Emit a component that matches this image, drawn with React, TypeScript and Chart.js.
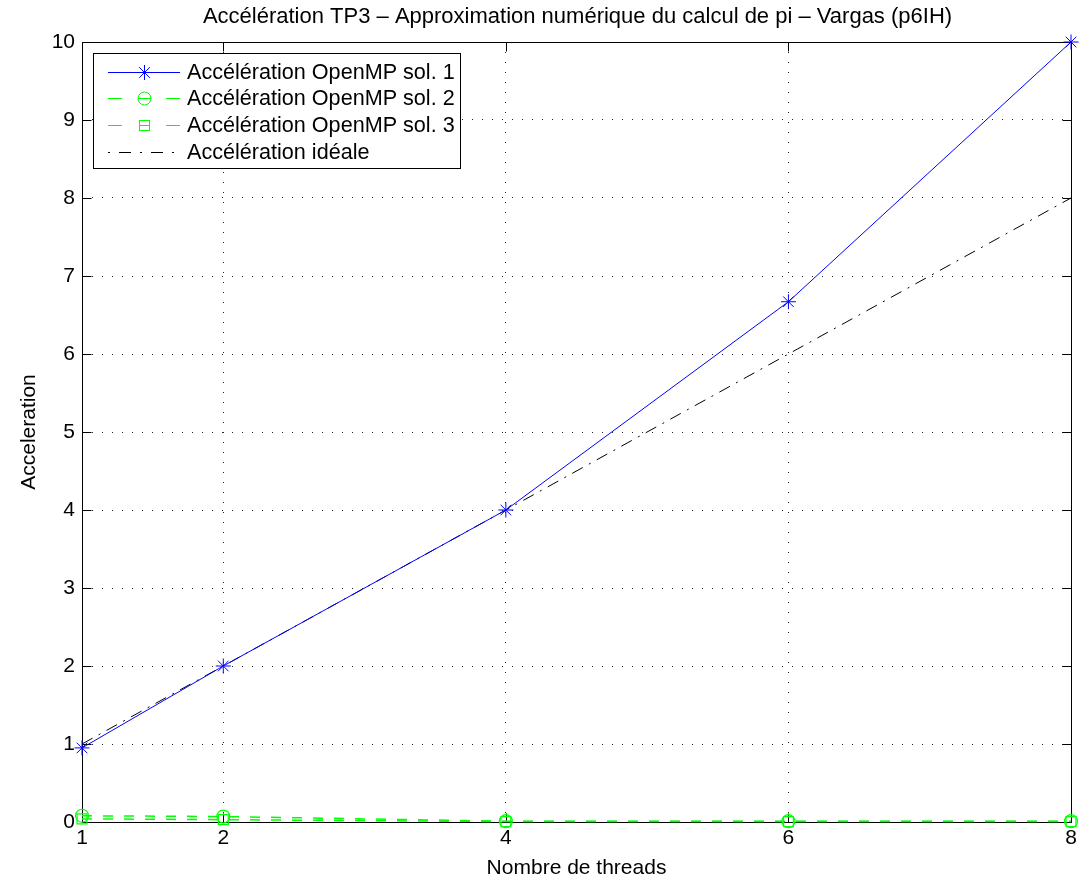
import React, { useEffect, useRef } from "react";
import { Chart, registerables } from "chart.js";

Chart.register(...registerables);

const threads = [1, 2, 4, 6, 8];
const accelSol1 = [0.95, 2.0, 4.0, 6.67, 10.0];
const accelSol2 = [0.08, 0.07, 0.01, 0.01, 0.01];
const accelSol3 = [0.04, 0.03, 0.005, 0.005, 0.005];
const accelIdeal = [1, 2, 4, 6, 8];
const xTickValues = [1, 2, 4, 6, 8];
const yTickValues = [0, 1, 2, 3, 4, 5, 6, 7, 8, 9, 10];
const seriesLabels = [
  "Accélération OpenMP sol. 1",
  "Accélération OpenMP sol. 2",
  "Accélération OpenMP sol. 3",
  "Accélération idéale",
];
const chartTitle = "Accélération TP3 – Approximation numérique du calcul de pi – Vargas (p6IH)";
const xTitle = "Nombre de threads";
const yTitle = "Acceleration";

const FONT = "'Liberation Sans', Arial, Helvetica, sans-serif";
const FS = 21;

const toPts = (ys: number[]) => threads.map((x, i) => ({ x, y: ys[i] }));

const framePlugin = {
  id: "matlabFrame",
  beforeDatasetsDraw(chart: any) {
    const { ctx, chartArea } = chart;
    const { left, right, top, bottom } = chartArea;
    const xs = chart.scales.x;
    const ys = chart.scales.y;
    ctx.save();
    ctx.strokeStyle = "#000";
    ctx.lineWidth = 1;
    ctx.setLineDash([]);
    const L = Math.round(left) + 0.5;
    const R = Math.round(right) + 0.5;
    const T = Math.round(top) + 0.5;
    const B = Math.round(bottom) + 0.5;
    ctx.strokeRect(L, T, R - L, B - T);
    const tl = 9;
    ctx.beginPath();
    xTickValues.forEach((v) => {
      const px = Math.round(xs.getPixelForValue(v)) + 0.5;
      ctx.moveTo(px, B);
      ctx.lineTo(px, B - tl);
      ctx.moveTo(px, T);
      ctx.lineTo(px, T + tl);
    });
    yTickValues.forEach((v) => {
      const py = Math.round(ys.getPixelForValue(v)) + 0.5;
      ctx.moveTo(L, py);
      ctx.lineTo(L + tl, py);
      ctx.moveTo(R, py);
      ctx.lineTo(R - tl, py);
    });
    ctx.stroke();
    ctx.restore();
  },
  afterDraw(chart: any) {
    const { ctx, chartArea } = chart;
    ctx.save();
    // title
    ctx.fillStyle = "#000";
    ctx.font = `22px ${FONT}`;
    ctx.textAlign = "center";
    ctx.textBaseline = "middle";
    ctx.fillText(chartTitle, (chartArea.left + chartArea.right) / 2 + 1, 17);

    // legend
    const boxL = 93.5;
    const boxT = 53.5;
    const rowY = [72, 98, 125, 152];
    const lineX0 = 108;
    const lineX1 = 180;
    const textX = 187;
    ctx.font = `21.6px ${FONT}`;
    let maxW = 0;
    seriesLabels.forEach((s) => {
      maxW = Math.max(maxW, ctx.measureText(s).width);
    });
    const boxR = Math.round(textX + maxW + 5) + 0.5;
    const boxB = 168.5;
    ctx.fillStyle = "#fff";
    ctx.fillRect(boxL, boxT, boxR - boxL, boxB - boxT);
    ctx.strokeStyle = "#000";
    ctx.lineWidth = 1;
    ctx.setLineDash([]);
    ctx.strokeRect(boxL, boxT, boxR - boxL, boxB - boxT);

    chart.data.datasets.forEach((ds: any, i: number) => {
      const y = rowY[i] + 0.5;
      ctx.strokeStyle = ds.borderColor;
      ctx.lineWidth = 1;
      if (ds.legendDash) {
        ctx.setLineDash(ds.legendDash);
      } else {
        ctx.setLineDash([]);
      }
      ctx.beginPath();
      ctx.moveTo(lineX0, y);
      ctx.lineTo(lineX1, y);
      ctx.stroke();
      ctx.setLineDash([]);
      const mx = Math.round((lineX0 + lineX1) / 2) + 0.5;
      const r = ds.pointRadius;
      if (ds.pointStyle && r > 0) {
        ctx.strokeStyle = ds.borderColor;
        if (ds.pointStyle === "circle") {
          ctx.beginPath();
          ctx.arc(mx, y, r, 0, Math.PI * 2);
          ctx.moveTo(mx - r, y);
          ctx.lineTo(mx + r, y);
          ctx.stroke();
        } else if (ds.pointStyle === "rect") {
          const s = Math.round(r * Math.SQRT1_2);
          ctx.strokeRect(mx - s, y - s, 2 * s, 2 * s);
          ctx.beginPath();
          ctx.moveTo(mx - s, y);
          ctx.lineTo(mx + s, y);
          ctx.stroke();
        } else if (ds.pointStyle === "star") {
          ctx.beginPath();
          for (let k = 0; k < 4; k++) {
            const a = (k * Math.PI) / 4;
            ctx.moveTo(mx - r * Math.cos(a), y - r * Math.sin(a));
            ctx.lineTo(mx + r * Math.cos(a), y + r * Math.sin(a));
          }
          ctx.stroke();
        }
      }
      ctx.fillStyle = "#000";
      ctx.textAlign = "left";
      ctx.textBaseline = "middle";
      ctx.fillText(seriesLabels[i], textX, rowY[i] + 1);
    });
    ctx.restore();
  },
};

export default function App() {
  const ref = useRef<HTMLCanvasElement | null>(null);
  useEffect(() => {
    document.body.style.margin = "0";
    const canvas = ref.current;
    if (!canvas) return;
    const chart = new Chart(canvas, {
      type: "line",
      data: {
        datasets: [
          {
            label: seriesLabels[0],
            data: toPts(accelSol1),
            borderColor: "#0000ff",
            backgroundColor: "#0000ff",
            borderWidth: 1,
            pointStyle: "star",
            pointRadius: 7.5,
            pointBorderWidth: 1,
            pointBorderColor: "#0000ff",
            pointBackgroundColor: "rgba(0,0,0,0)",
            tension: 0,
            fill: false,
          } as any,
          {
            label: seriesLabels[1],
            data: toPts(accelSol2),
            borderColor: "#00ff00",
            backgroundColor: "rgba(0,0,0,0)",
            borderWidth: 1.5,
            borderDash: [10, 11],
            legendDash: [14, 44],
            pointStyle: "circle",
            pointRadius: 6.5,
            pointBorderWidth: 1.2,
            pointBorderColor: "#00ff00",
            pointBackgroundColor: "rgba(0,0,0,0)",
            tension: 0,
            fill: false,
          } as any,
          {
            label: seriesLabels[2],
            data: toPts(accelSol3),
            borderColor: "#00ff00",
            backgroundColor: "rgba(0,0,0,0)",
            borderWidth: 1.5,
            borderDash: [10, 11],
            legendDash: [14, 44],
            pointStyle: "rect",
            pointRadius: 7,
            pointBorderWidth: 1.2,
            pointBorderColor: "#00ff00",
            pointBackgroundColor: "rgba(0,0,0,0)",
            tension: 0,
            fill: false,
          } as any,
          {
            label: seriesLabels[3],
            data: toPts(accelIdeal),
            borderColor: "#000000",
            backgroundColor: "rgba(0,0,0,0)",
            borderWidth: 1,
            borderDash: [12, 7, 2, 7],
            legendDash: [2, 9, 12, 9],
            pointRadius: 0,
            pointStyle: false,
            tension: 0,
            fill: false,
          } as any,
        ],
      },
      options: {
        responsive: false,
        animation: false,
        devicePixelRatio: 1,
        parsing: true,
        layout: { padding: { top: 42, right: 21, left: 0, bottom: 0 } },
        plugins: {
          legend: { display: false },
          title: { display: false },
          tooltip: { enabled: false },
        },
        datasets: { line: { clip: false } as any },
        scales: {
          x: {
            type: "linear",
            min: 1,
            max: 8,
            afterBuildTicks: (s: any) => {
              s.ticks = xTickValues.map((v) => ({ value: v }));
            },
            afterFit: (s: any) => {
              s.height = 59;
            },
            grid: {
              color: "#222",
              lineWidth: 1,
              drawTicks: false,
            },
            border: { display: false, dash: [1, 9] },
            ticks: {
              color: "#000",
              font: { family: FONT, size: FS },
              padding: 4,
              maxRotation: 0,
              autoSkip: false,
            },
            title: {
              display: true,
              text: xTitle,
              color: "#000",
              font: { family: FONT, size: FS },
              padding: { top: 0, bottom: 0 },
            },
          },
          y: {
            type: "linear",
            min: 0,
            max: 10,
            afterBuildTicks: (s: any) => {
              s.ticks = yTickValues.map((v) => ({ value: v }));
            },
            afterFit: (s: any) => {
              s.width = 82;
            },
            grid: {
              color: "#222",
              lineWidth: 1,
              drawTicks: false,
            },
            border: { display: false, dash: [1, 9] },
            ticks: {
              color: "#000",
              font: { family: FONT, size: FS },
              padding: 7,
              autoSkip: false,
            },
            title: {
              display: true,
              text: yTitle,
              color: "#000",
              font: { family: FONT, size: FS },
              padding: { top: 17, bottom: 0 },
            },
          },
        },
      },
      plugins: [framePlugin],
    } as any);
    return () => chart.destroy();
  }, []);
  return (
    <canvas
      ref={ref}
      width={1092}
      height={881}
      style={{ display: "block", width: 1092, height: 881 }}
    />
  );
}
